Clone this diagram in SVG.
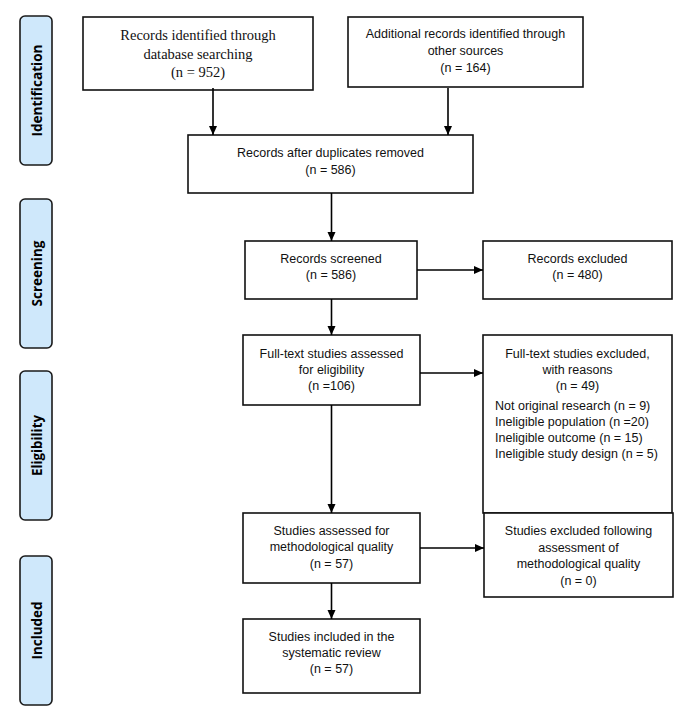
<svg xmlns="http://www.w3.org/2000/svg" width="686" height="716" viewBox="0 0 686 716">
<defs>
<marker id="ah" markerWidth="10" markerHeight="10" refX="9" refY="5" orient="auto" markerUnits="userSpaceOnUse"><path d="M0,1 L9,5 L0,9 z" fill="#000"/></marker>
<style>
.box{fill:#fff;stroke:#111;stroke-width:1.6}
.lab{fill:#cfe8fb;stroke:#1a1a1a;stroke-width:1.6}
.t{font-family:"Liberation Sans",Arial,sans-serif;font-size:12.5px;fill:#111;text-anchor:middle}
.tl{font-family:"Liberation Sans",Arial,sans-serif;font-size:12.5px;fill:#111;text-anchor:start}
.ts{font-family:"Liberation Serif","Times New Roman",serif;font-size:14.5px;fill:#111;text-anchor:middle}
.lt{font-family:"Open Sans","Noto Sans",sans-serif;font-weight:bold;font-size:13.5px;fill:#000;text-anchor:middle;dominant-baseline:central}
.c{stroke:#000;stroke-width:1.6;fill:none;marker-end:url(#ah)}
</style>
</defs>
<rect width="686" height="716" fill="#fff"/>
<g id="stage-identification"><rect class="lab" x="20" y="16" width="32" height="149" rx="5"/><text class="lt" transform="translate(37,90.5) rotate(-90)" textLength="92" lengthAdjust="spacingAndGlyphs">Identification</text></g>
<g id="stage-screening"><rect class="lab" x="20" y="199" width="32" height="149" rx="5"/><text class="lt" transform="translate(37,273.5) rotate(-90)" textLength="66" lengthAdjust="spacingAndGlyphs">Screening</text></g>
<g id="stage-eligibility"><rect class="lab" x="20" y="371" width="32" height="149" rx="5"/><text class="lt" transform="translate(37,445.5) rotate(-90)" textLength="61" lengthAdjust="spacingAndGlyphs">Eligibility</text></g>
<g id="stage-included"><rect class="lab" x="20" y="556" width="32" height="149" rx="5"/><text class="lt" transform="translate(37,630.5) rotate(-90)" textLength="58" lengthAdjust="spacingAndGlyphs">Included</text></g>

<g id="n-database"><rect class="box" x="83" y="17" width="230" height="73"/>
<text class="ts" x="198" y="40">Records identified through</text>
<text class="ts" x="198" y="59">database searching</text>
<text class="ts" x="198" y="77">(n = 952)</text></g>
<g id="n-other"><rect class="box" x="348" y="17" width="235" height="70"/>
<text class="t" x="465.5" y="38">Additional records identified through</text>
<text class="t" x="465.5" y="55">other sources</text>
<text class="t" x="465.5" y="72">(n = 164)</text></g>
<g id="n-duplicates"><rect class="box" x="188" y="135" width="285" height="58"/>
<text class="t" x="330.5" y="157">Records after duplicates removed</text>
<text class="t" x="330.5" y="174">(n = 586)</text></g>
<g id="n-screened"><rect class="box" x="245" y="241" width="172" height="58"/>
<text class="t" x="331" y="263">Records screened</text>
<text class="t" x="331" y="279">(n = 586)</text></g>
<g id="n-excluded"><rect class="box" x="483" y="241" width="189" height="58"/>
<text class="t" x="577.5" y="263">Records excluded</text>
<text class="t" x="577.5" y="279">(n = 480)</text></g>
<g id="n-fulltext"><rect class="box" x="243" y="335" width="177" height="70"/>
<text class="t" x="331.5" y="358">Full-text studies assessed</text>
<text class="t" x="331.5" y="374">for eligibility</text>
<text class="t" x="331.5" y="390">(n =106)</text></g>
<g id="n-fulltext-excluded"><rect class="box" x="483" y="335" width="189" height="178"/>
<text class="t" x="577.5" y="358">Full-text studies excluded,</text>
<text class="t" x="577.5" y="374">with reasons</text>
<text class="t" x="577.5" y="390">(n = 49)</text>
<text class="tl" x="495" y="410">Not original research (n = 9)</text>
<text class="tl" x="495" y="426">Ineligible population (n =20)</text>
<text class="tl" x="495" y="442">Ineligible outcome (n = 15)</text>
<text class="tl" x="495" y="458">Ineligible study design (n = 5)</text></g>
<g id="n-quality"><rect class="box" x="243" y="513" width="177" height="70"/>
<text class="t" x="331.5" y="535">Studies assessed for</text>
<text class="t" x="331.5" y="551">methodological quality</text>
<text class="t" x="331.5" y="568">(n = 57)</text></g>
<g id="n-quality-excluded"><rect class="box" x="484" y="513" width="189" height="84"/>
<text class="t" x="578.5" y="535">Studies excluded following</text>
<text class="t" x="578.5" y="552">assessment of</text>
<text class="t" x="578.5" y="568">methodological quality</text>
<text class="t" x="578.5" y="585">(n = 0)</text></g>
<g id="n-included"><rect class="box" x="243" y="619" width="177" height="74"/>
<text class="t" x="331.5" y="641">Studies included in the</text>
<text class="t" x="331.5" y="657">systematic review</text>
<text class="t" x="331.5" y="673">(n = 57)</text></g>

<g id="connectors">
<line class="c" x1="213" y1="88" x2="213" y2="135"/>
<line class="c" x1="448" y1="88" x2="448" y2="135"/>
<line class="c" x1="331.5" y1="193" x2="331.5" y2="241"/>
<line class="c" x1="331.5" y1="299" x2="331.5" y2="335"/>
<line class="c" x1="417" y1="270" x2="483" y2="270"/>
<line class="c" x1="420" y1="373" x2="483" y2="373"/>
<line class="c" x1="331.5" y1="405" x2="331.5" y2="513"/>
<line class="c" x1="420" y1="548" x2="484" y2="548"/>
<line class="c" x1="331.5" y1="583" x2="331.5" y2="619"/>
</g>
</svg>
